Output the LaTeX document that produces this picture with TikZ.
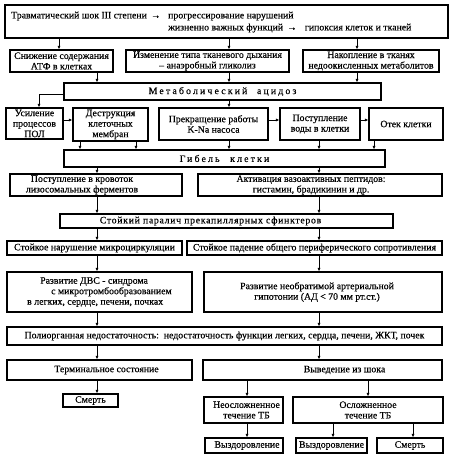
\documentclass[tikz,border=0pt]{standalone}
\usepackage{fontspec}
\setmainfont[FakeBold=0.35]{Liberation Serif}
\usetikzlibrary{arrows.meta,fit}
\newcommand\bx[7]{\node[box,fit={(#2,#3)(#4,#5)}] (#1) {};
  \node[txt,#6] (#1t) at (#1.center) {#7};}
\newcommand\vc[3]{\draw[arr] (#3,0 |- #1.south) -- (#3,0 |- #2.north);}
\newcommand\hc[3]{\draw[arr] (#1.east |- 0,#3) -- (#2.west |- 0,#3);}
\newcommand\spaced[2][22]{{\addfontfeature{LetterSpace=#1}#2}}
\begin{document}
\begin{tikzpicture}[x=1bp,y=-1bp,
  box/.style={draw,line width=1.2bp,inner sep=0pt},
  txt/.style={inner sep=0pt,align=center,font=\fontsize{9.8bp}{10.5bp}\selectfont},
  arr/.style={draw,line width=0.6bp,-{Latex[length=3.5bp,width=3bp]}}]
\useasboundingbox (0,0) rectangle (455,464);
% top
\node[box,fit={(5,5)(448,38)}] (top) {};
\node[txt,anchor=west,align=left,font=\fontsize{9.8bp}{12bp}\selectfont] (topt) at (11,22)
 {\begin{tabular}{@{}l@{}l@{}}\makebox[157bp][l]{Травматический шок III степени\hspace{4bp}→} & прогрессирование нарушений\\
  & жизненно важных функций\hspace{4bp}→\hspace{8bp}гипоксия клеток и тканей\end{tabular}};
% row 2
\bx{A}{10}{50}{113}{72}{}{Снижение содержания\\АТФ в клетках}
\bx{B}{126}{50}{289}{72}{}{Изменение типа тканевого дыхания\\– анаэробный гликолиз}
\bx{C}{303}{50}{439}{72}{}{Накопление в тканях\\недоокисленных метаболитов}
\bx{acid}{64}{83}{381}{100}{}{\spaced{Метаболический\hspace{5bp} ацидоз}}
% row 3
\bx{U}{6}{108}{63}{139}{}{Усиление\\процессов\\ПОЛ}
\bx{D}{73}{108}{148}{141}{}{Деструкция\\клеточных\\мембран}
\bx{P}{159}{108}{268}{140}{}{Прекращение работы\\K-Na насоса}
\bx{W}{280}{108}{360}{140}{}{Поступление\\воды в клетки}
\bx{O}{369}{108}{443}{140}{}{Отек клетки}
\bx{G}{64}{150}{385}{167}{}{\spaced{Гибель\hspace{6bp} клетки}}
% row 5
\bx{L}{10}{174}{182}{196}{xshift=-14bp}{Поступление в кровоток\\лизосомальных ферментов}
\bx{V}{198}{174}{442}{196}{xshift=-9bp}{Активация вазоактивных пептидов:\\гистамин, брадикинин и др.}
\bx{S}{60}{214}{393}{228}{xshift=-16bp}{\spaced[7]{Стойкий паралич прекапиллярных сфинктеров}}
\bx{M}{7}{241}{182}{255}{}{Стойкое нарушение микроциркуляции}
\bx{R}{187}{241}{442}{255}{}{Стойкое падение общего периферического сопротивления}
\node[box,fit={(7,272)(192,312)}] (DVS) {};
\node[txt,align=left,anchor=west] (DVSt) at (27,292) {\hspace*{13bp}Развитие ДВС - синдрома\\\hspace*{24bp}с микротромбообразованием\\в легких, сердце, печени, почках};
\bx{H}{204}{272}{442}{312}{xshift=-6bp}{Развитие необратимой артериальной\\гипотонии (АД < 70 мм рт.ст.)}
\bx{Poly}{7}{327}{442}{345}{}{Полиорганная недостаточность:\ \ недостаточность функции легких, сердца, печени, ЖКТ, почек}
\bx{T}{7}{360}{192}{380}{xshift=7bp}{Терминальное состояние}
\bx{E}{203}{360}{442}{380}{xshift=22bp}{Выведение из шока}
\bx{D1}{63}{394}{118}{407}{}{Смерть}
\bx{N}{204}{397}{283}{423}{xshift=3bp}{Неосложненное\\течение ТБ}
\bx{K}{293}{397}{443}{423}{}{Осложненное\\течение ТБ}
\bx{R1}{205}{438}{283}{453}{xshift=3bp}{Выздоровление}
\bx{R2}{296}{438}{367}{453}{}{Выздоровление}
\bx{D2}{377}{438}{443}{453}{}{Смерть}
% connectors
\vc{top}{A}{59} \vc{top}{B}{229} \vc{top}{C}{357}
\vc{A}{acid}{97} \vc{B}{acid}{229} \vc{C}{acid}{357}
\draw[arr] (acid.west |- 0,94) -- (39,94) -- (39,0 |- U.north);
\vc{acid}{P}{229}
\hc{U}{D}{120} \hc{P}{W}{120} \hc{W}{O}{120}
\vc{D}{G}{80} \vc{D}{G}{136} \vc{P}{G}{229} \vc{W}{G}{319} \vc{O}{G}{374}
\vc{G}{L}{97} \vc{G}{V}{319}
\vc{L}{S}{97} \vc{V}{S}{319}
\vc{S}{M}{97} \vc{S}{R}{319}
\vc{M}{DVS}{97} \vc{R}{H}{319}
\vc{DVS}{Poly}{97} \vc{H}{Poly}{319}
\vc{Poly}{T}{97} \vc{Poly}{E}{319}
\vc{T}{D1}{97}
\vc{E}{N}{247} \vc{E}{K}{368}
\vc{N}{R1}{247} \vc{K}{R2}{333} \vc{K}{D2}{413}
\end{tikzpicture}
\end{document}
